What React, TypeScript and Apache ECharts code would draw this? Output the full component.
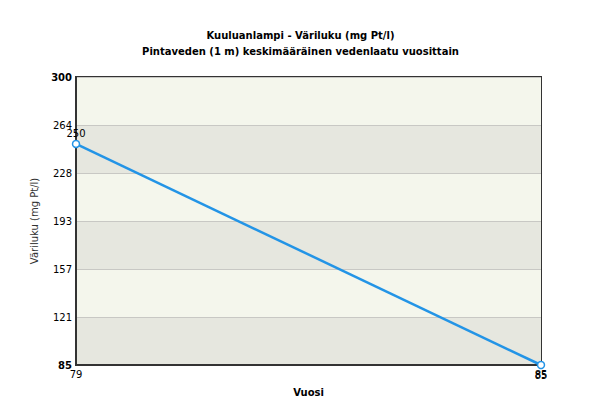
import React, { useEffect, useRef } from "react";
import * as echarts from "echarts";

const titleText = "Kuuluanlampi - Väriluku (mg Pt/l)";
const subtitleText = "Pintaveden (1 m) keskimääräinen vedenlaatu vuosittain";
const years = ["79", "85"];
const values = [250, 85];
const yMin = 85;
const yMax = 300;
const ySteps = 6;

export default function App() {
  const ref = useRef<HTMLDivElement>(null);
  useEffect(() => {
    if (!ref.current) return;
    const chart = echarts.init(ref.current, null, { renderer: "svg" });
    const font = "DejaVu Sans, Verdana, sans-serif";
    chart.setOption({
      animation: false,
      backgroundColor: "#ffffff",
      title: {
        text: titleText,
        subtext: subtitleText,
        left: "center",
        top: 25,
        itemGap: 6,
        textStyle: { fontFamily: font, fontSize: 10, fontWeight: "bold", color: "#000" },
        subtextStyle: { fontFamily: font, fontSize: 10, fontWeight: "bold", color: "#000" },
      },
      grid: {
        left: 76,
        right: 60,
        top: 77,
        bottom: 41,
        show: true,
        borderColor: "#333",
        borderWidth: 2,
        backgroundColor: "transparent",
      },
      xAxis: {
        type: "category",
        data: years,
        boundaryGap: false,
        name: "Vuosi",
        nameLocation: "middle",
        nameGap: 22,
        nameTextStyle: { fontFamily: font, fontSize: 10, fontWeight: "bold", color: "#000" },
        axisLine: { show: true, lineStyle: { color: "#333", width: 2 } },
        axisTick: { show: false },
        axisLabel: { fontFamily: font, fontSize: 10, color: "#000", margin: 4 },
        splitLine: { show: false },
      },
      yAxis: {
        type: "value",
        min: yMin,
        max: yMax,
        interval: (yMax - yMin) / ySteps,
        name: "Väriluku (mg Pt/l)",
        nameLocation: "middle",
        nameGap: 37,
        nameTextStyle: { fontFamily: font, fontSize: 10, color: "#333" },
        axisLine: { show: true, lineStyle: { color: "#333", width: 2 } },
        axisTick: { show: false },
        axisLabel: {
          fontFamily: font,
          fontSize: 10,
          color: "#000",
          margin: 4,
          formatter: (v: number) => {
            const r = Math.round(v);
            return r === yMin || r === yMax ? `{b|${r}}` : `${r}`;
          },
          rich: { b: { fontFamily: font, fontSize: 10, fontWeight: "bold", color: "#000" } },
        },
        splitLine: { show: true, lineStyle: { color: "#c8c8c4", width: 1 } },
        splitArea: { show: true, areaStyle: { color: ["#e6e7df", "#f4f6ec"] } },
      },
      series: [
        {
          type: "line",
          data: values.map((v, i) => ({
            value: v,
            label: {
              show: true,
              position: i === values.length - 1 ? "bottom" : "top",
              distance: i === values.length - 1 ? 1 : 1,
            },
          })),
          symbol: "circle",
          symbolSize: 7,
          lineStyle: { color: "#2394e6", width: 2.5 },
          itemStyle: { color: "#ffffff", borderColor: "#2394e6", borderWidth: 1.5 },
          label: { fontFamily: font, fontSize: 10, color: "#000" },
        },
      ],
    });
    return () => chart.dispose();
  }, []);
  return <div ref={ref} style={{ width: 601, height: 406, position: "absolute", left: 0, top: 0 }} />;
}
